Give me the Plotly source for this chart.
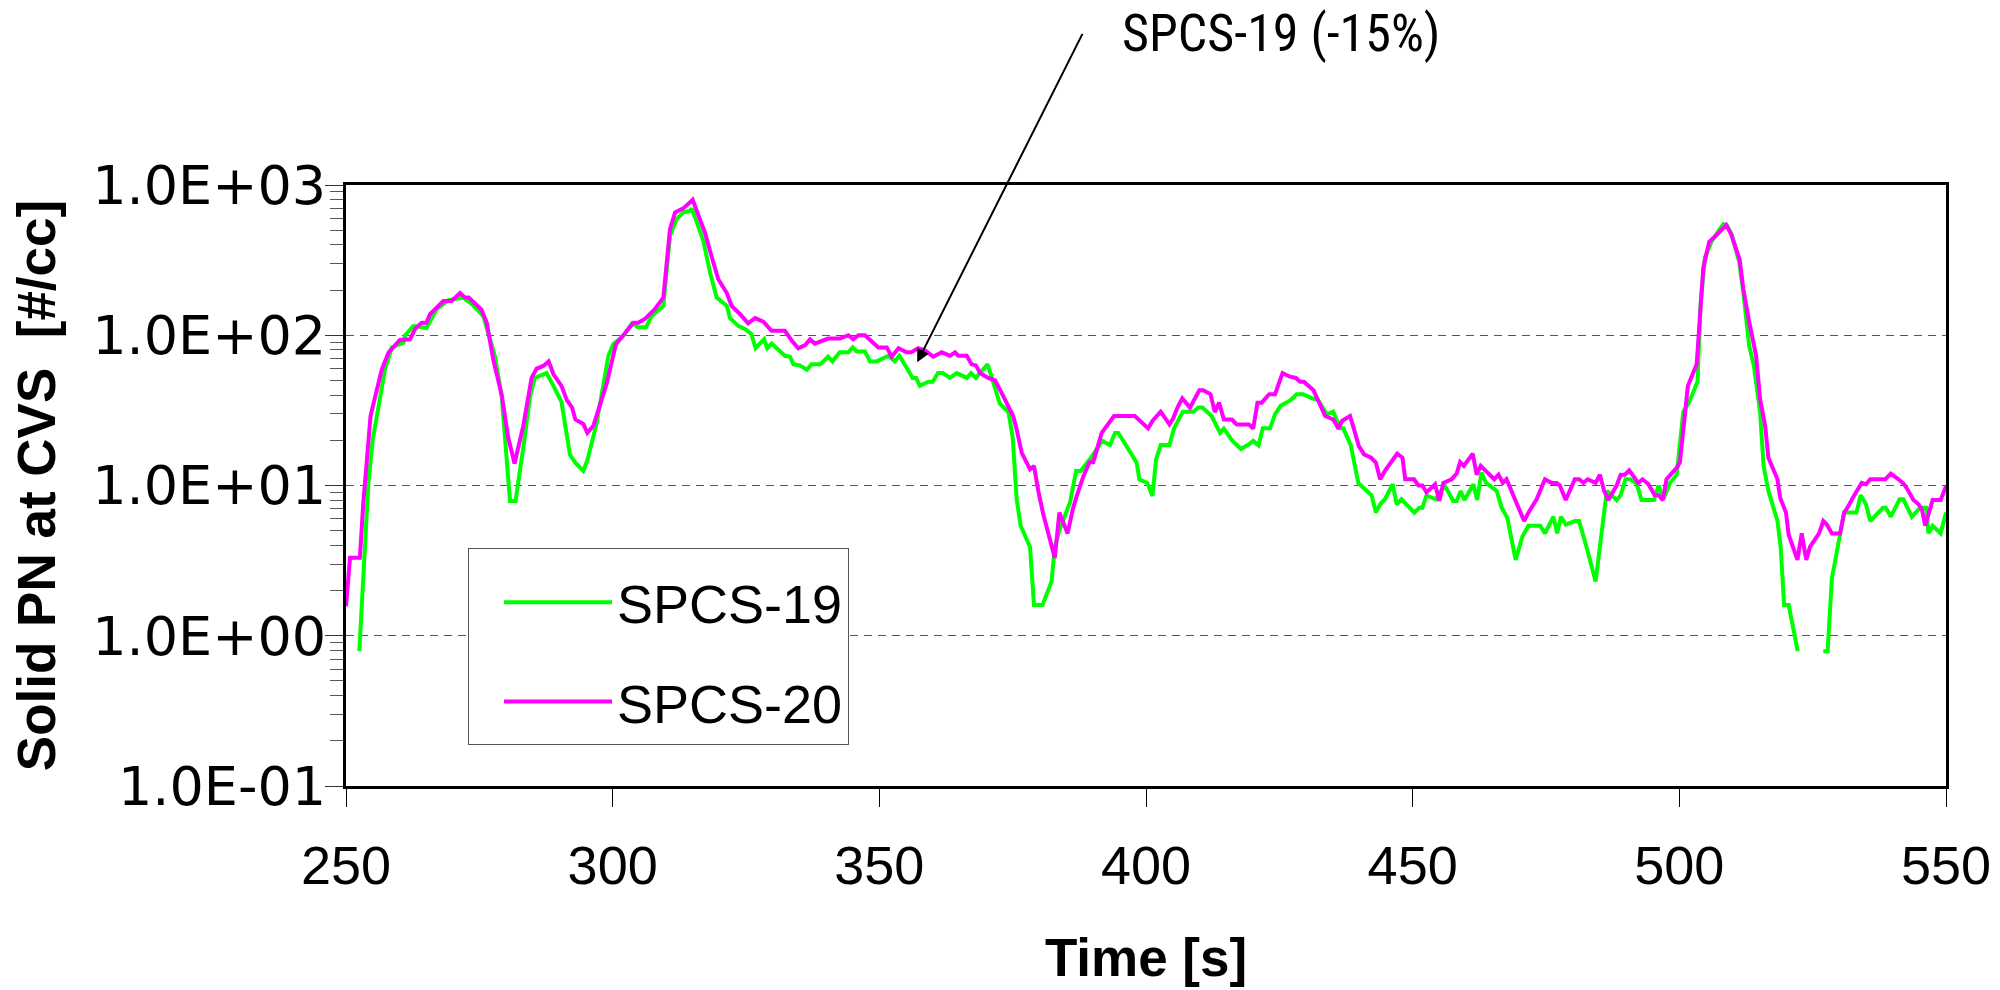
import math
import plotly.graph_objects as go

# ---------------- data ----------------
time19 = [252.5, 253.25, 254.2, 255.0, 255.75, 257.3, 258.6, 260.75, 261.1, 262.6, 265.1, 267.0, 269.2, 272.0,
          273.6, 275.75, 277.9, 279.2, 280.75, 281.8, 283.25, 284.5, 285.4, 287.6, 288.9, 290.4, 292.0, 293.0,
          294.5, 295.3, 297.0, 299.2, 300.1, 302.0, 303.6, 304.8, 306.25, 307.3, 309.5, 310.75, 312.0, 313.25,
          314.5, 314.8, 315.9, 317.0, 318.25, 319.5, 321.4, 322.0, 323.6, 324.8, 326.0, 326.8, 328.4, 329.0,
          329.8, 332.3, 333.25, 333.9, 335.1, 336.4, 337.3, 338.9, 340.4, 341.2, 342.6, 344.2, 345.0, 345.75,
          347.3, 348.25, 349.5, 351.7, 352.9, 353.75, 355.1, 356.25, 356.9, 357.6, 359.2, 360.0, 361.0, 361.9,
          363.25, 364.5, 366.4, 367.2, 368.1, 369.0, 370.3, 371.4, 372.6, 374.2, 375.0, 375.75, 376.5, 378.25,
          379.0, 380.6, 382.3, 382.9, 383.9, 385.75, 386.9, 387.75, 389.5, 391.8, 393.25, 394.2, 394.8, 396.1,
          397.3, 398.25, 398.75, 400.25, 401.2, 401.9, 402.75, 404.4, 405.25, 406.9, 408.9, 409.8, 410.6, 412.3,
          413.9, 414.6, 416.2, 417.8, 419.3, 420.1, 421.1, 421.9, 423.25, 424.2, 425.25, 427.1, 428.25, 429.5,
          431.1, 432.3, 433.9, 435.1, 436.4, 437.0, 438.4, 439.8, 442.3, 443.1, 443.9, 444.8, 446.25, 447.0,
          447.9, 450.3, 451.25, 451.8, 452.6, 454.3, 455.1, 456.1, 457.6, 458.25, 459.0, 459.7, 461.4, 462.1,
          462.9, 463.75, 465.75, 466.7, 467.75, 469.3, 470.6, 471.7, 473.9, 474.8, 476.4, 477.1, 477.8, 478.7,
          480.4, 481.2, 482.6, 484.3, 486.4, 487.2, 488.25, 489.0, 489.9, 490.75, 492.0, 492.9, 495.25, 496.1,
          497.0, 498.25, 499.5, 500.75, 501.8, 503.4, 504.0, 504.8, 506.1, 508.25, 508.9, 509.8, 511.25, 512.0,
          513.1, 514.0, 515.15, 515.8, 516.7, 518.4, 519.0, 519.65, 520.5, 522.2, 525.0, 527.0, 527.8, 528.6,
          530.15, 530.9, 533.2, 534.0, 535.0, 535.8, 538.15, 538.7, 539.65, 541.3, 542.0, 543.6, 545.15, 546.3,
          546.7, 547.5, 549.0, 550.0]
spcs19 = [0.79, 2.4, 10.4, 20, 29, 59, 83, 89, 100, 115, 112, 149, 171, 178,
          161, 134, 73, 39, 7.9, 7.9, 18, 39, 52, 56, 46, 36, 16, 14.2,
          12.5, 14.9, 26, 73, 87, 99, 120, 113, 113, 134, 157, 460, 593, 657,
          675, 699, 550, 425, 262, 178, 157, 130, 115, 110, 102, 82, 94, 82,
          88, 73, 72, 64, 63, 59, 64, 64, 72, 67, 77, 77, 83, 78,
          78, 67, 67, 73, 67, 73, 61, 52, 52, 46, 49, 49, 56, 56,
          52, 56, 52, 56, 52, 57, 64, 48, 35, 31, 21, 8.1, 5.4, 3.9,
          1.6, 1.6, 2.3, 3.9, 5.2, 7.7, 12.5, 12.5, 15, 19.8, 18.6, 22.4, 22.4, 18.9,
          16.3, 14.2, 11, 10.4, 8.5, 14.9, 18.6, 18.6, 24, 31, 31, 33, 33, 29,
          22.4, 23.9, 19.8, 17.5, 18.8, 19.8, 18.5, 24, 24, 29.8, 34, 37, 40.5, 40.5,
          38, 37, 29.8, 31, 24, 24, 18.5, 10.4, 8.6, 6.6, 7.5, 8.1, 10.2, 7.5,
          8.1, 6.6, 7.1, 7.1, 8.6, 8.1, 9.0, 9.9, 7.9, 7.9, 9.2, 8.0, 10.2, 8.0,
          12.2, 10.4, 9.2, 7.1, 6.1, 3.2, 4.6, 5.4, 5.4, 4.8, 6.2, 4.8, 6.2, 5.5,
          5.8, 5.8, 3.9, 2.3, 9.2, 8.6, 8.0, 8.6, 11, 11, 10.3, 8.0, 8.0, 10,
          8.1, 10.4, 11.8, 31, 35.6, 49, 165, 329, 426, 550, 541, 471, 305, 192,
          85, 62, 30.5, 13.5, 9.2, 5.8, 3.9, 1.6, 1.6, 0.79, None, 0.79, 0.79, 2.4,
          4.8, 6.6, 6.6, 8.6, 7.5, 5.8, 7.1, 7.1, 6.2, 8.1, 8.1, 6.2, 7.1, 7.1,
          4.8, 5.4, 4.8, 6.6]

time20 = [250.0, 250.75, 252.6, 253.25, 254.6, 256.7, 258.0, 260.1, 262.0, 263.0, 264.2, 265.1, 265.75, 268.25,
          269.8, 271.4, 272.3, 273.0, 275.4, 276.4, 277.6, 279.2, 280.4, 281.6, 283.25, 284.8, 285.75, 287.0,
          288.0, 288.9, 290.4, 291.4, 292.4, 293.0, 294.5, 295.25, 296.4, 298.9, 300.6, 302.3, 303.9, 304.8,
          306.1, 307.9, 309.5, 310.75, 311.7, 313.25, 315.0, 316.1, 317.3, 318.6, 319.8, 321.4, 322.3, 323.9,
          325.4, 326.7, 328.25, 329.8, 332.3, 333.6, 334.8, 336.1, 337.0, 337.9, 340.4, 342.6, 344.2, 345.1,
          346.1, 347.3, 349.8, 351.4, 352.3, 353.6, 355.1, 356.0, 357.3, 358.6, 360.1, 361.7, 363.25, 364.2,
          364.8, 366.4, 367.3, 368.1, 368.9, 370.4, 371.7, 372.9, 374.2, 375.1, 375.75, 376.7, 378.25, 379.0,
          379.8, 380.75, 382.9, 383.75, 385.3, 386.25, 387.0, 388.25, 389.4, 390.1, 391.7, 392.9, 394.0, 397.9,
          400.4, 401.25, 402.75, 404.4, 405.1, 405.9, 406.8, 408.25, 410.0, 410.75, 412.1, 412.9, 413.7, 414.6,
          416.1, 417.0, 419.3, 420.1, 420.9, 421.7, 423.1, 424.2, 425.6, 427.0, 428.1, 428.9, 429.6, 431.4,
          433.6, 435.1, 436.1, 436.8, 438.25, 439.2, 439.9, 440.9, 442.2, 443.1, 443.9, 444.8, 446.1, 447.1,
          448.1, 448.6, 450.25, 451.1, 451.8, 452.6, 454.2, 455.0, 455.75, 457.3, 458.25, 458.9, 459.6, 461.25,
          462.0, 462.75, 464.0, 465.3, 466.1, 466.9, 467.6, 468.9, 470.0, 470.9, 471.7, 473.25, 474.8, 476.1,
          477.0, 477.6, 478.7, 480.4, 481.25, 482.0, 482.8, 484.3, 485.1, 485.9, 486.7, 488.25, 489.0, 489.8,
          490.6, 492.3, 493.1, 494.2, 495.4, 496.1, 496.9, 497.6, 499.5, 500.1, 501.1, 501.6, 503.25, 504.5,
          505.6, 506.7, 508.8, 509.7, 511.3, 512.0, 513.0, 514.4, 515.15, 516.1, 516.7, 518.4, 518.9, 520.0,
          520.5, 522.15, 522.95, 523.8, 524.5, 526.2, 527.0, 527.65, 528.6, 530.15, 530.9, 531.5, 532.8, 534.2,
          535.0, 535.8, 538.6, 539.65, 541.1, 542.15, 542.95, 543.9, 544.85, 545.5, 546.1, 547.5, 549.0, 550.0]
spcs20 = [1.57, 3.3, 3.3, 7.7, 29, 59, 77, 93, 94, 111, 121, 121, 138, 169,
          169, 191, 178, 178, 148, 121, 69, 40, 21, 14, 25, 52, 60, 62.5,
          67, 55, 46, 37, 33, 27.5, 25.7, 22.4, 25, 48, 87, 102, 121, 121,
          129, 149, 178, 509, 657, 699, 798, 625, 483, 329, 236, 191, 157, 138,
          120, 130, 123, 107, 107, 92, 82, 86, 94, 88, 95, 95, 100, 94,
          100, 100, 83, 83, 72, 82, 77, 77, 82, 79, 72, 77, 73, 77,
          73, 73, 64, 63, 56, 52, 50, 41.5, 34, 29, 23.6, 16.5, 12.8, 13.5,
          9.2, 6.4, 3.3, 6.6, 4.8, 6.9, 8.5, 11.5, 14.3, 14.3, 22.4, 26, 29, 29,
          24, 27, 31, 25.5, 28, 33, 38, 33, 43, 43, 40.5, 30.8, 35.6, 27.5,
          27.5, 25.5, 25.5, 23.9, 35.6, 35.6, 40.5, 40.5, 56, 53, 52, 49, 49, 43,
          29, 27.5, 23.9, 27, 29, 22.4, 18.3, 16.1, 15.3, 14.2, 11, 12.5, 14.5, 16.3,
          15.3, 11, 11, 10, 10, 9.0, 10.2, 7.9, 10.4, 11, 12, 14.3, 13.5, 16.3,
          11.8, 13.5, 12.2, 11, 11.8, 10.4, 11, 8.5, 6.9, 5.8, 6.6, 8.1, 11, 10.4,
          10.4, 10, 8.0, 11, 11, 10.4, 11, 10.4, 11.8, 9.2, 8.0, 10, 11.8, 11.8,
          12.6, 10.4, 11, 10.2, 8.6, 8.6, 8.0, 11, 13.1, 14.2, 31, 46, 64, 282,
          419, 454, 541, 471, 321, 203, 128, 73, 37.4, 24.9, 15.3, 11, 8.3, 6.6,
          4.7, 3.2, 4.8, 3.2, 3.9, 4.8, 5.8, 5.5, 4.8, 4.8, 6.6, 7.1, 8.6, 10.4,
          10.2, 11, 11, 12, 11, 10.2, 9.2, 8.0, 7.5, 6.9, 5.4, 8.0, 8.0, 9.9]

x_ticks = [250, 300, 350, 400, 450, 500, 550]
y_tick_vals = [0.1, 1, 10, 100, 1000]
y_tick_text = ["1.0E-01", "1.0E+00", "1.0E+01", "1.0E+02", "1.0E+03"]
series_names = ["SPCS-19", "SPCS-20"]
series_colors = ["#00FF00", "#FF00FF"]
annotation_text = "SPCS-19 (-15%)"
arrow_target = (357.1, 66)   # (time, value) the arrow points at

minor_vals = [m * 10 ** e for e in range(-1, 3) for m in range(2, 10)]

# ---------------- figure ----------------
fig = go.Figure()
for name, tt, vv, col in [(series_names[0], time19, spcs19, series_colors[0]),
                          (series_names[1], time20, spcs20, series_colors[1])]:
    fig.add_trace(go.Scatter(x=tt, y=vv, mode="lines", name=name, legendgroup=name,
                             line=dict(color=col, width=4), connectgaps=False))

fig.update_layout(
    width=2000, height=990,
    margin=dict(l=346, r=54, t=185, b=204, autoexpand=False),
    paper_bgcolor="white", plot_bgcolor="white",
    showlegend=True,
    legend=dict(x=0.07625, y=0.396, xanchor="left", yanchor="top",
                bgcolor="white", bordercolor="#555555", borderwidth=1,
                font=dict(family="Liberation Sans, Arial, sans-serif", size=54, color="black"),
                itemwidth=108, tracegroupgap=26, traceorder="grouped", indentation=30,
                title=dict(text=" ", font=dict(size=9))),
)

fig.update_xaxes(
    range=[250, 550], tickvals=x_ticks, ticks="outside", ticklen=18, tickwidth=1, tickcolor="black",
    showgrid=False, zeroline=False, showline=True, linecolor="black", linewidth=3, mirror=True,
    tickfont=dict(family="Liberation Sans, Arial, sans-serif", size=54, color="black"),
    ticklabelstandoff=12,
    title=dict(text="<b>Time [s]</b>", font=dict(family="Liberation Sans, Arial, sans-serif", size=53, color="black"),
               standoff=46),
    automargin=False,
)

fig.update_yaxes(
    type="log", range=[-1, 3], tickvals=y_tick_vals, ticktext=y_tick_text,
    ticks="outside", ticklen=18, tickwidth=1, tickcolor="#333333",
    minor=dict(tickmode="array", tickvals=minor_vals, ticks="outside", ticklen=13, tickwidth=1,
               tickcolor="#555555", showgrid=False),
    showgrid=True, gridcolor="#555555", gridwidth=1, griddash="8px,6px",
    zeroline=False, showline=True, linecolor="black", linewidth=3, mirror=True,
    tickfont=dict(family="DejaVu Sans, sans-serif", size=54, color="black"),
    ticklabelstandoff=-12,
    title=dict(text="<b>Solid PN at CVS \u00a0[#/cc]</b>",
               font=dict(family="Liberation Sans, Arial, sans-serif", size=53, color="black"),
               standoff=20),
    automargin=False,
)

# arrow pointing at the SPCS-19 curve
fig.add_annotation(x=arrow_target[0], y=math.log10(arrow_target[1]), xref="x", yref="y",
                   text="", showarrow=True, arrowhead=2, arrowsize=1.3, arrowwidth=2, arrowcolor="black",
                   ax=166, ay=-330, axref="pixel", ayref="pixel", standoff=0)
fig.add_annotation(x=0.48375, y=1.252, xref="paper", yref="paper", text=annotation_text, showarrow=False,
                   xanchor="left", yanchor="middle",
                   font=dict(family="Liberation Sans Narrow, Roboto Condensed, Roboto, sans-serif", size=52,
                             color="black"))

fig.write_html("out.html")
